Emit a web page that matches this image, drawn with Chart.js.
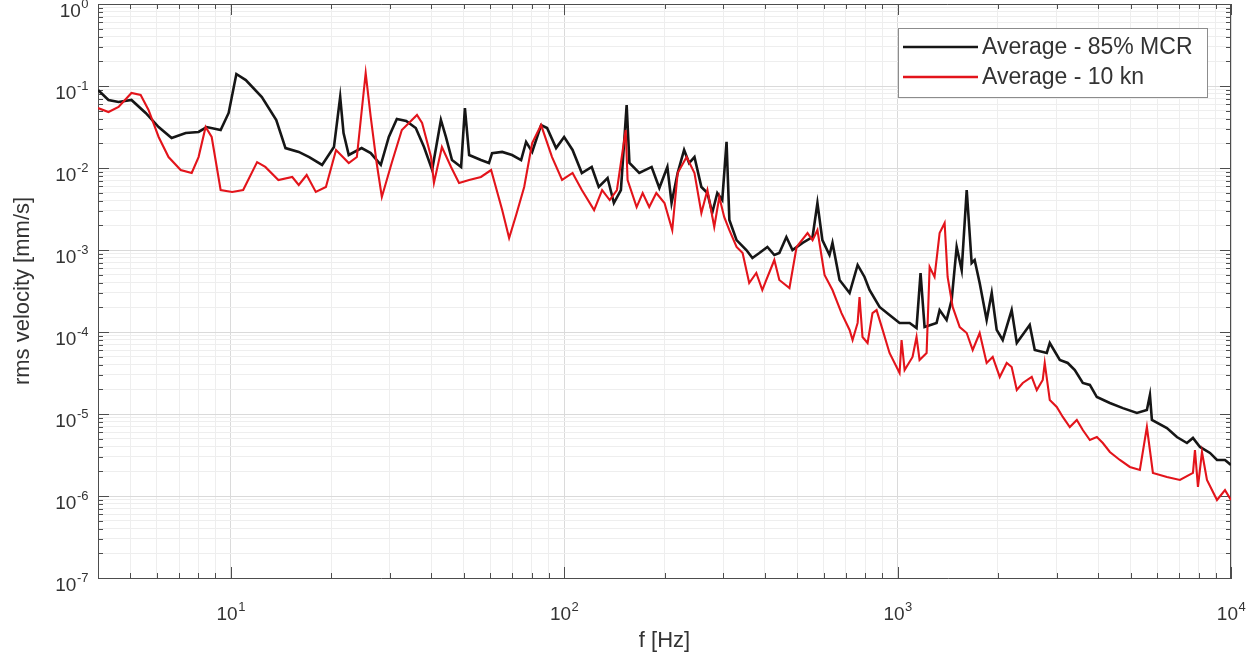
<!DOCTYPE html>
<html>
<head>
<meta charset="utf-8">
<title>rms velocity spectrum</title>
<script src="https://cdn.jsdelivr.net/npm/chart.js@4.4.1/dist/chart.umd.min.js"></script>
<style>
  html, body { margin: 0; padding: 0; background: #fff; }
  #wrap { width: 1251px; height: 660px; }
</style>
</head>
<body>
<div id="wrap"><canvas id="spectrum" width="1251" height="660"></canvas></div>
<script>
// ── data ──
const seriesLabels = ['Average - 85% MCR', 'Average - 10 kn'];

const mcrFreq = [4.0, 4.30, 4.61, 5.04, 5.56, 6.08, 6.65, 7.33, 8.01, 8.47, 9.33, 9.86, 10.4, 11.1, 12.4, 13.7,
  14.6, 16.0, 17.2, 18.8, 20.4, 21.3, 21.8, 22.6, 24.7, 26.3, 28.2, 29.8, 31.5, 33.6, 35.9, 38.0, 40.2, 42.7,
  44.2, 46.1, 49.1, 50.4, 51.9, 56.3, 59.5, 60.8, 65.2, 69.8, 74.3, 76.9, 80.2, 85.3, 88.9, 94.6, 100, 106,
  113, 121, 127, 135, 141, 148, 154, 157, 168, 183, 193, 204, 210, 219, 229, 237, 246, 258, 269, 278, 288,
  298, 307, 313, 329, 352, 367, 385, 407, 427, 442, 464, 484, 519, 556, 575, 595, 625, 638, 670, 718, 759,
  796, 824, 883, 946, 1014, 1087, 1140, 1172, 1205, 1309, 1337, 1403, 1453, 1504, 1557, 1612, 1668, 1703,
  1763, 1850, 1916, 1983, 2067, 2199, 2278, 2491, 2579, 2802, 2861, 3066, 3239, 3401, 3594, 3773, 3960,
  4332, 4740, 5221, 5594, 5713, 5792, 6424, 6883, 7377, 7690, 8071, 8650, 9078, 9594, 10000];
const mcrVel = [0.0894, 0.0675, 0.0638, 0.0675, 0.0469, 0.0316, 0.0232, 0.0267, 0.0275, 0.0316, 0.0291,
  0.0469, 0.140, 0.118, 0.0734, 0.0385, 0.0175, 0.0157, 0.0136, 0.0109, 0.0180, 0.0734, 0.0267, 0.0144,
  0.0175, 0.0152, 0.0109, 0.0239, 0.0396, 0.0374, 0.0307, 0.0180, 0.00945, 0.0385, 0.0239, 0.0125, 0.0103,
  0.0539, 0.0144, 0.0125, 0.0115, 0.0152, 0.0157, 0.0144, 0.0125, 0.0208, 0.0157, 0.0334, 0.0307, 0.0175,
  0.0239, 0.0166, 0.00869, 0.0103, 0.00587, 0.00755, 0.00374, 0.00539, 0.0587, 0.0115, 0.00869, 0.0103,
  0.0057, 0.0103, 0.00374, 0.00869, 0.0166, 0.0115, 0.0136, 0.00587, 0.00496, 0.00283, 0.00496, 0.00407,
  0.0208, 0.00232, 0.00132, 0.00100, 7.99e-4, 9.19e-4, 1.09e-3, 8.69e-4, 9.19e-4, 1.44e-3, 1.00e-3, 1.22e-3,
  1.44e-3, 3.74e-3, 1.32e-3, 8.69e-4, 1.22e-3, 4.31e-4, 2.99e-4, 6.57e-4, 4.69e-4, 3.25e-4, 2.02e-4, 1.61e-4,
  1.29e-4, 1.29e-4, 1.12e-4, 5.24e-4, 1.15e-4, 1.29e-4, 1.85e-4, 1.40e-4, 2.46e-4, 1.09e-3, 5.70e-4, 5.39e-3,
  6.94e-4, 7.55e-4, 3.96e-4, 1.40e-4, 2.99e-4, 1.06e-4, 7.99e-5, 1.85e-4, 7.34e-5, 1.22e-4, 6.03e-5, 5.55e-5,
  7.34e-5, 4.56e-5, 4.19e-5, 3.44e-5, 2.39e-5, 2.26e-5, 1.61e-5, 1.36e-5, 1.18e-5, 1.03e-5, 1.12e-5, 1.70e-5,
  8.45e-6, 6.75e-6, 5.24e-6, 4.43e-6, 5.10e-6, 3.96e-6, 3.35e-6, 2.75e-6, 2.75e-6, 2.39e-6];

const knFreq = [4.0, 4.30, 4.61, 5.04, 5.37, 5.67, 6.08, 6.51, 7.08, 7.64, 8.01, 8.41, 8.77, 9.33, 10.1, 10.9,
  12.0, 12.7, 13.9, 15.3, 16.0, 16.9, 18.0, 19.3, 20.7, 22.6, 23.9, 25.4, 26.3, 27.4, 28.4, 30.4, 32.6, 36.2,
  37.5, 39.9, 40.7, 43.0, 45.8, 48.4, 51.9, 56.3, 60.4, 65.2, 68.4, 71.8, 75.9, 80.2, 85.3, 92.0, 98.6, 106,
  113, 123, 130, 137, 144, 153, 155, 165, 172, 180, 189, 200, 211, 219, 233, 246, 258, 269, 282, 292, 302,
  313, 329, 343, 359, 377, 393, 404, 427, 442, 474, 498, 537, 556, 575, 604, 638, 679, 718, 733, 759, 769,
  785, 813, 841, 865, 902, 946, 1014, 1028, 1050, 1109, 1140, 1164, 1222, 1248, 1291, 1337, 1384, 1413, 1463,
  1536, 1612, 1680, 1763, 1850, 1929, 2025, 2125, 2199, 2278, 2374, 2526, 2615, 2725, 2763, 2861, 3002,
  3130, 3285, 3448, 3594, 3773, 3960, 4127, 4332, 4642, 4974, 5330, 5594, 5832, 6424, 7028, 7690, 7797,
  7960, 8183, 8471, 9078, 9594, 10000];
const knVel = [0.0539, 0.0482, 0.0555, 0.0822, 0.0777, 0.051, 0.0239, 0.0136, 0.00945, 0.00869, 0.0136,
  0.0316, 0.0239, 0.00539, 0.0051, 0.00539, 0.0118, 0.0103, 0.00714, 0.00777, 0.0062, 0.00822, 0.0051,
  0.00587, 0.0166, 0.0115, 0.0136, 0.144, 0.0419, 0.0115, 0.00443, 0.0115, 0.0291, 0.0443, 0.0354, 0.0136,
  0.00657, 0.018, 0.0103, 0.00657, 0.00714, 0.00777, 0.00945, 0.00307, 0.0014, 0.00267, 0.00587, 0.0202,
  0.0334, 0.0136, 0.00714, 0.00869, 0.00539, 0.00307, 0.00539, 0.00407, 0.00539, 0.0291, 0.00714, 0.00334,
  0.00496, 0.00334, 0.00496, 0.00374, 0.00175, 0.00869, 0.0136, 0.00869, 0.00283, 0.00539, 0.00191, 0.00443,
  0.00253, 0.00175, 1.09e-3, 9.19e-4, 3.96e-4, 5.24e-4, 3.25e-4, 4.31e-4, 7.55e-4, 4.31e-4, 3.44e-4, 1.09e-3,
  1.61e-3, 1.32e-3, 1.75e-3, 4.96e-4, 3.25e-4, 1.70e-4, 1.06e-4, 7.99e-5, 1.29e-4, 2.67e-4, 8.69e-5, 7.34e-5,
  1.70e-4, 1.85e-4, 1.06e-4, 5.55e-5, 3.16e-5, 7.99e-5, 3.44e-5, 4.96e-5, 8.69e-5, 4.56e-5, 5.55e-5, 6.20e-4,
  4.69e-4, 1.61e-3, 2.13e-3, 4.69e-4, 2.02e-4, 1.15e-4, 9.72e-5, 6.03e-5, 9.72e-5, 4.19e-5, 4.96e-5, 2.83e-5,
  4.19e-5, 3.74e-5, 1.96e-5, 2.39e-5, 2.83e-5, 1.96e-5, 2.60e-5, 4.19e-5, 1.48e-5, 1.22e-5, 9.2e-6, 6.94e-6,
  8.45e-6, 6.38e-6, 4.82e-6, 5.24e-6, 4.43e-6, 3.44e-6, 2.75e-6, 2.26e-6, 2.08e-6, 6.94e-6, 1.91e-6, 1.70e-6,
  1.57e-6, 1.91e-6, 3.64e-6, 1.29e-6, 3.44e-6, 1.57e-6, 8.94e-7, 1.18e-6, 8.94e-7];

const xDecades = [1e1, 1e2, 1e3, 1e4];
const xDecadeLabels = ['10^1', '10^2', '10^3', '10^4'];
const yDecades = [1e-7, 1e-6, 1e-5, 1e-4, 1e-3, 1e-2, 1e-1, 1e0];
const yDecadeLabels = ['10^-7', '10^-6', '10^-5', '10^-4', '10^-3', '10^-2', '10^-1', '10^0'];

// ── styling ──
const axisGray  = '#4d4d4d';
const textGray  = '#333333';
const lineBlack = '#161616';
const lineRed   = '#e3141b';
const fontStack = "'Liberation Sans', Arial, sans-serif";

Chart.defaults.font.family = fontStack;
Chart.defaults.color       = textGray;

const isDecade = v => { const l = Math.log10(v); return Math.abs(l - Math.round(l)) < 1e-6; };

function logTicks(min, max) {
    const out = [];
    for (let e = Math.floor(Math.log10(min)); e <= Math.ceil(Math.log10(max)); e++) {
        for (let m = 1; m <= 9; m++) {
            const v = m * Math.pow(10, e);
            if (v >= min * 0.9999 && v <= max * 1.0001) out.push({ value: v });
        }
    }
    return out;
}

const gridColor = ctx => (ctx.tick && isDecade(ctx.tick.value)) ? '#dadada' : '#eeeeee';

// white page behind everything
const paper = {
    id: 'paper',
    beforeDraw(chart) {
        const c = chart.ctx;
        c.save();
        c.fillStyle = '#fff';
        c.fillRect(0, 0, chart.width, chart.height);
        c.restore();
    }
};

// box on + inward tick marks on all four sides
const axesBox = {
    id: 'axesBox',
    beforeDatasetsDraw(chart) {
        const { ctx, chartArea: a, scales: { x, y } } = chart;
        ctx.save();
        ctx.strokeStyle = axisGray;
        ctx.lineWidth = 1;
        ctx.beginPath();
        ctx.moveTo(a.left, a.top + 0.5);   ctx.lineTo(a.right, a.top + 0.5);
        ctx.moveTo(a.right - 0.5, a.top);  ctx.lineTo(a.right - 0.5, a.bottom);
        x.ticks.forEach(t => {
            const px = Math.round(x.getPixelForValue(t.value)) + 0.5;
            const len = isDecade(t.value) ? 11 : 5;
            ctx.moveTo(px, a.bottom); ctx.lineTo(px, a.bottom - len);
            ctx.moveTo(px, a.top);    ctx.lineTo(px, a.top + len);
        });
        y.ticks.forEach(t => {
            const py = Math.round(y.getPixelForValue(t.value)) + 0.5;
            const len = isDecade(t.value) ? 11 : 5;
            ctx.moveTo(a.left, py);  ctx.lineTo(a.left + len, py);
            ctx.moveTo(a.right, py); ctx.lineTo(a.right - len, py);
        });
        ctx.stroke();
        ctx.restore();
    }
};

// decade labels with a real raised exponent (10^n)
function drawPower(ctx, label, xPos, baseY, align) {
    const [base, exp] = label.split('^');
    ctx.font = '19px ' + fontStack;
    const wb = ctx.measureText(base).width;
    ctx.font = '13px ' + fontStack;
    const we = ctx.measureText(exp).width;
    const left = align === 'right' ? xPos - wb - we : xPos - (wb + we) / 2;
    ctx.font = '19px ' + fontStack;
    ctx.fillText(base, left, baseY);
    ctx.font = '13px ' + fontStack;
    ctx.fillText(exp, left + wb + 0.5, baseY - 9);
}

const powerLabels = {
    id: 'powerLabels',
    afterDraw(chart) {
        const { ctx, chartArea: a, scales: { x, y } } = chart;
        ctx.save();
        ctx.fillStyle = textGray;
        ctx.textBaseline = 'alphabetic';
        ctx.textAlign = 'left';
        xDecades.forEach((d, i) => drawPower(ctx, xDecadeLabels[i], x.getPixelForValue(d), a.bottom + 42, 'center'));
        yDecades.forEach((d, i) => drawPower(ctx, yDecadeLabels[i], a.left - 10, y.getPixelForValue(d) + 13, 'right'));
        ctx.restore();
    }
};

// MATLAB-style boxed legend, top right inside the axes
const boxLegend = {
    id: 'boxLegend',
    afterDatasetsDraw(chart) {
        const { ctx, chartArea: a } = chart;
        const w = 309, h = 69;
        const left = a.right - 24 - w, top = a.top + 24;
        ctx.save();
        ctx.fillStyle = '#fff';
        ctx.fillRect(left, top, w, h);
        ctx.strokeStyle = '#8c8c8c';
        ctx.lineWidth = 1;
        ctx.strokeRect(left + 0.5, top + 0.5, w, h);
        ctx.font = '23px ' + fontStack;
        ctx.textBaseline = 'middle';
        chart.data.datasets.forEach((ds, i) => {
            const cy = top + 19 + i * 30;
            ctx.strokeStyle = ds.borderColor;
            ctx.lineWidth = 2.5;
            ctx.beginPath();
            ctx.moveTo(left + 5, cy); ctx.lineTo(left + 80, cy);
            ctx.stroke();
            ctx.fillStyle = textGray;
            ctx.fillText(ds.label, left + 84, cy + 1);
        });
        ctx.restore();
    }
};

const toPoints = (fs, vs) => fs.map((f, i) => ({ x: f, y: vs[i] }));

new Chart(document.getElementById('spectrum'), {
    type: 'line',
    data: {
        datasets: [{
            label:       seriesLabels[0],
            data:        toPoints(mcrFreq, mcrVel),
            borderColor: lineBlack,
            borderWidth: 2.6,
            pointRadius: 0,
            tension:     0,
            order:       1,
        }, {
            label:       seriesLabels[1],
            data:        toPoints(knFreq, knVel),
            borderColor: lineRed,
            borderWidth: 2.1,
            pointRadius: 0,
            tension:     0,
            order:       0,
        }]
    },
    options: {
        responsive: false,
        animation:  false,
        layout: { padding: { top: 4, right: 20, bottom: 0, left: 0 } },
        plugins: {
            legend:  { display: false },
            tooltip: { enabled: false },
        },
        scales: {
            x: {
                type: 'logarithmic',
                min: 4, max: 10000,
                bounds: 'data',
                afterBuildTicks: s => { s.ticks = logTicks(s.min, s.max); },
                afterFit: s => { s.height = 82; s.paddingLeft = 0; s.paddingRight = 0; },
                grid:   { color: gridColor, drawTicks: false },
                border: { color: axisGray, width: 1 },
                ticks:  { display: false, autoSkip: false, maxRotation: 0 },
                title: {
                    display: true, text: 'f [Hz]', color: textGray,
                    font: { size: 22 }, padding: { top: 0, bottom: 6 }
                }
            },
            y: {
                type: 'logarithmic',
                min: 1e-7, max: 1,
                bounds: 'data',
                afterBuildTicks: s => { s.ticks = logTicks(s.min, s.max); },
                afterFit: s => { s.width = 98; s.paddingTop = 0; s.paddingBottom = 0; },
                grid:   { color: gridColor, drawTicks: false },
                border: { color: axisGray, width: 1 },
                ticks:  { display: false, autoSkip: false },
                title: {
                    display: true, text: 'rms velocity [mm/s]', color: textGray,
                    font: { size: 22 }, padding: { top: 10, bottom: 0 }
                }
            }
        }
    },
    plugins: [paper, axesBox, boxLegend, powerLabels]
});
</script>
</body>
</html>
